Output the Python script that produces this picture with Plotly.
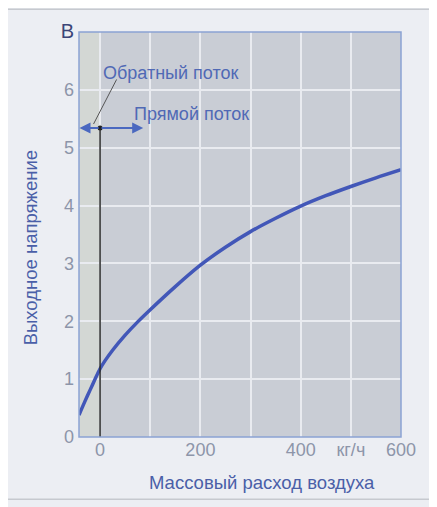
import plotly.graph_objects as go

# Data
flow = [-42, -30, -20, -10, 0, 10, 25, 50, 75, 100, 150, 200, 250, 300, 350, 400, 450, 500, 550, 600]
voltage = [0.38, 0.62, 0.81, 1.0, 1.18, 1.32, 1.5, 1.76, 1.99, 2.2, 2.6, 2.97, 3.28, 3.55, 3.78, 3.99, 4.17, 4.33, 4.48, 4.62]

x_tickvals = [0, 100, 200, 300, 400, 500, 600]
x_ticktext = ["0", "", "200", "", "400", "кг/ч", "600"]
y_tickvals = [0, 1, 2, 3, 4, 5, 6, 7]
y_ticktext = ["0", "1", "2", "3", "4", "5", "6", "<span style='color:#3b4577;font-size:20px'>В</span>"]

marker_x = [0]
marker_y = [5.34]
reverse_end = -42
forward_end = 86

FONT = "Liberation Sans, Arial, sans-serif"
TICK_C = "#8d95a9"
BLUE_T = "#4a5fa8"

fig = go.Figure()

fig.add_trace(go.Scatter(x=flow, y=voltage, mode="lines",
                         line=dict(color="#4257b8", width=3.5, shape="spline", smoothing=0.8),
                         showlegend=False, hoverinfo="skip"))
fig.add_trace(go.Scatter(x=marker_x, y=marker_y, mode="markers",
                         marker=dict(color="#222", size=5),
                         showlegend=False, hoverinfo="skip"))

shapes = [
    # outer frame
    dict(type="rect", xref="paper", yref="paper", x0=-0.233, x1=1.096, y0=-0.154, y1=1.056,
         line=dict(color="#c6c9cf", width=1.5), fillcolor="rgba(0,0,0,0)", layer="below"),
    # lighter strip for reverse flow
    dict(type="rect", xref="x", yref="paper", x0=-42, x1=0, y0=0, y1=1,
         fillcolor="#d3d7d4", line=dict(width=0), layer="below"),
    # vertical black line at zero
    dict(type="line", xref="x", yref="y", x0=0, x1=0, y0=0, y1=marker_y[0],
         line=dict(color="#2a2a2a", width=1.5)),
    # leader line
    dict(type="line", xref="x", yref="y", x0=33, y0=6.18, x1=-13, y1=5.41,
         line=dict(color="#555", width=1)),
    # plot border
    dict(type="rect", xref="paper", yref="paper", x0=0, x1=1, y0=0, y1=1,
         line=dict(color="#8ba3d4", width=1.5), fillcolor="rgba(0,0,0,0)"),
]

annotations = [
    dict(x=reverse_end + 1, y=marker_y[0], ax=0, ay=marker_y[0], xref="x", yref="y", axref="x", ayref="y",
         showarrow=True, arrowhead=2, arrowsize=1.1, arrowwidth=2, arrowcolor="#4a68c0", text=""),
    dict(x=forward_end, y=marker_y[0], ax=0, ay=marker_y[0], xref="x", yref="y", axref="x", ayref="y",
         showarrow=True, arrowhead=2, arrowsize=1.1, arrowwidth=2, arrowcolor="#4a68c0", text=""),
    dict(x=142, y=6.3, xref="x", yref="y", text="Обратный поток", showarrow=False,
         xanchor="center", yanchor="middle",
         font=dict(family=FONT, size=18, color="#5069b5")),
    dict(x=183, y=5.59, xref="x", yref="y", text="Прямой поток", showarrow=False,
         xanchor="center", yanchor="middle",
         font=dict(family=FONT, size=18, color="#5069b5")),
    dict(x=0.568, y=-0.112, xref="paper", yref="paper", text="Массовый расход воздуха", showarrow=False,
         xanchor="center", yanchor="middle",
         font=dict(family=FONT, size=18.5, color=BLUE_T)),
    dict(x=-0.152, y=0.466, xref="paper", yref="paper", text="Выходное напряжение", showarrow=False,
         xanchor="center", yanchor="middle",
         textangle=-90, font=dict(family=FONT, size=18.5, color=BLUE_T)),
]

fig.update_layout(
    width=429, height=499,
    margin=dict(l=71, r=36, t=19, b=70),
    paper_bgcolor="#eceef3",
    plot_bgcolor="#c9cdd5",
    shapes=shapes,
    annotations=annotations,
    xaxis=dict(range=[-42, 600], tickvals=x_tickvals, ticktext=x_ticktext,
               showgrid=True, gridcolor="#e9ebf0", gridwidth=1.5, zeroline=False,
               showline=False, ticks="", ticklabelstandoff=0,
               tickfont=dict(family=FONT, size=18, color=TICK_C)),
    yaxis=dict(range=[0, 7], tickvals=y_tickvals, ticktext=y_ticktext,
               showgrid=True, gridcolor="#e9ebf0", gridwidth=1.5, zeroline=False,
               showline=False, ticks="", ticklabelstandoff=4,
               tickfont=dict(family=FONT, size=18, color=TICK_C)),
)

fig.write_html("out.html")
